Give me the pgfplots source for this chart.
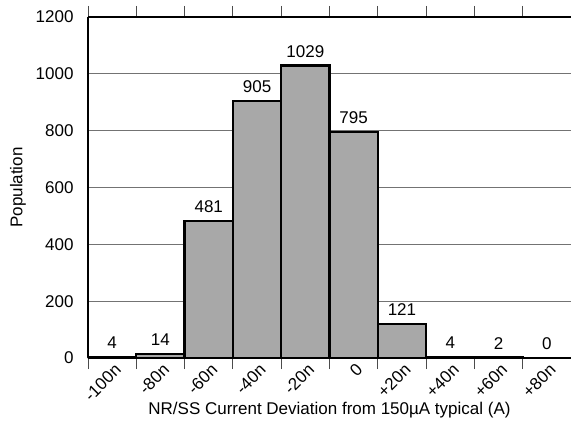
\documentclass[border=0pt]{standalone}
\usepackage{pgfplots}
\pgfplotsset{compat=1.18}
\usepackage{fontspec}
\setmainfont{Liberation Sans}
\usetikzlibrary{calc}
\pgfkeys{/pgf/number format/.cd, assume math mode=true, 1000 sep={}}
\begin{document}
\begin{tikzpicture}
\begin{axis}[
  scale only axis,
  width=483bp, height=341bp,
  xmin=0, xmax=10, ymin=0, ymax=1200,
  axis y line*=left, axis x line*=box,
  axis line style={line width=2.2bp, black},
  xtick={0,1,2,3,4,5,6,7,8,9},
  xticklabels={-100n,-80n,-60n,-40n,-20n,0,+20n,+40n,+60n,+80n},
  xtick pos=both,
  tick align=outside,
  major tick length=11bp,
  xtick style={draw=black!70, line width=0.8bp},
  ytick={0,200,...,1200},
  ytick style={draw=none},
  yticklabel style={/pgf/number format/assume math mode=true, /pgf/number format/1000 sep={}},
  ymajorgrids,
  grid style={draw=black!55, line width=0.8bp},
  tick label style={font=\fontsize{17bp}{19bp}\selectfont},
  xticklabel style={inner sep=0pt, xshift=30bp, yshift=2bp, rotate=45, anchor=east},
  label style={font=\fontsize{17bp}{19bp}\selectfont},
  xlabel={NR/SS Current Deviation from 150µA typical (A)},
  ylabel={Population},
  xlabel style={at={(axis description cs:0.5,-0.1525)}, anchor=center},
  ylabel style={at={(axis description cs:-0.145,0.5)}, anchor=center},
  nodes near coords,
  nodes near coords style={/pgf/number format/assume math mode=true, /pgf/number format/1000 sep={}},
  every node near coord/.append style={font=\fontsize{17bp}{19bp}\selectfont, black, anchor=south, yshift=4bp},
]
\addplot[ybar, bar width=1, fill=black!34, draw=black, line width=2.2bp] coordinates {
(0.5,4) (1.5,14) (2.5,481) (3.5,905) (4.5,1029) (5.5,795) (6.5,121) (7.5,4) (8.5,2) (9.5,0)
};
\coordinate (bl) at (rel axis cs:0,0);
\coordinate (tr) at (rel axis cs:1,1);
\end{axis}
\pgfresetboundingbox
\path[use as bounding box] ($(bl)+(-88bp,-72bp)$) rectangle ($(tr)+(0bp,17bp)$);
\end{tikzpicture}
\end{document}
